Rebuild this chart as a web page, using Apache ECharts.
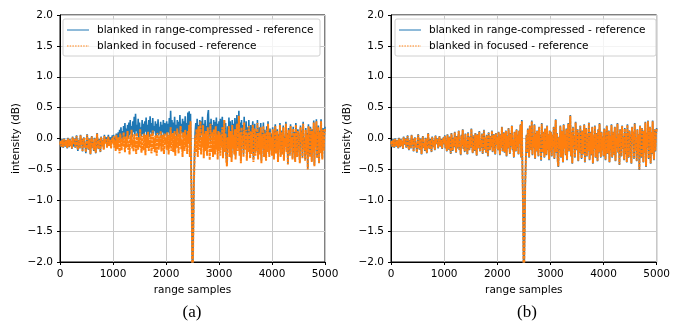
<!DOCTYPE html>
<html><head><meta charset="utf-8">
<script src="https://cdn.jsdelivr.net/npm/echarts@6/dist/echarts.min.js"></script>
<style>html,body{margin:0;padding:0;background:#fff}#c{width:673px;height:322px}</style>
</head><body><div id="c"></div>
<script>
const STEP = 12.5;
const xTicks = [0, 1000, 2000, 3000, 4000, 5000];
const yTicks = [-2.0, -1.5, -1.0, -0.5, 0.0, 0.5, 1.0, 1.5, 2.0];
const seriesNames = ['blanked in range-compressed - reference', 'blanked in focused - reference'];
const panelLabels = ['(a)', '(b)'];

// blanked in focused - reference (same curve in panels a and b)
const focused = [
-0.10,-0.04,-0.13,-0.02,-0.09,-0.14,-0.01,-0.07,-0.12,-0.03,-0.10,-0.15,0.00,-0.08,-0.13,-0.02,
-0.11,-0.05,-0.16,0.02,-0.09,-0.12,-0.01,-0.14,-0.06,0.04,-0.11,-0.18,-0.03,-0.08,-0.15,0.05,
-0.10,-0.02,-0.20,-0.06,0.01,-0.13,-0.09,-0.22,-0.04,0.06,-0.12,-0.17,-0.01,-0.08,-0.25,-0.03,
0.03,-0.14,-0.07,-0.19,0.00,-0.10,-0.23,-0.05,0.08,-0.12,-0.16,-0.02,-0.09,-0.21,0.02,-0.06,
-0.13,-0.03,-0.18,0.04,-0.08,-0.11,-0.01,-0.15,-0.05,0.03,-0.12,-0.09,-0.02,-0.16,-0.06,0.01,
-0.08,0.04,-0.15,-0.03,-0.20,0.06,-0.10,-0.17,0.02,-0.12,-0.24,0.08,-0.06,-0.19,0.00,-0.13,
0.10,-0.09,-0.22,0.03,-0.15,-0.04,0.12,-0.18,-0.08,-0.26,0.05,-0.11,0.14,-0.16,-0.02,-0.21,
0.07,-0.13,-0.05,-0.25,0.09,-0.10,-0.18,0.02,-0.14,0.15,-0.07,-0.23,0.04,-0.12,-0.19,0.08,
-0.04,-0.27,0.06,-0.15,-0.09,0.11,-0.20,-0.03,-0.14,0.07,-0.24,-0.08,0.13,-0.17,0.00,-0.22,
0.05,-0.11,-0.28,0.09,-0.06,-0.18,0.03,-0.13,0.12,-0.21,-0.05,0.06,-0.16,-0.25,0.08,-0.10,
0.02,-0.18,0.10,-0.08,-0.26,0.06,-0.14,0.18,-0.20,-0.03,0.09,-0.22,-0.10,0.12,-0.28,0.04,
-0.15,0.16,-0.06,-0.24,0.08,-0.12,0.20,-0.18,-0.02,-0.30,0.10,-0.09,-0.20,0.14,-0.14,0.05,
-0.25,0.12,-0.08,0.22,
-0.30,0.28,-0.55,-1.20,-2.6,-2.6,-0.80,-0.35,0.05,
-0.22,0.15,-0.10,-0.30,0.20,-0.05,-0.18,0.28,-0.26,0.02,-0.14,0.22,-0.32,0.08,-0.20,0.12,
-0.08,-0.28,0.18,-0.15,0.05,-0.35,0.24,-0.12,-0.22,0.10,-0.30,0.15,-0.05,-0.26,0.20,-0.18,
0.06,-0.34,0.12,
-0.20,0.10,-0.28,0.05,-0.15,0.18,-0.32,-0.05,0.30,-0.22,0.08,-0.36,-0.45,0.02,-0.18,0.20,
-0.30,0.12,-0.10,-0.38,0.22,-0.15,0.06,-0.26,0.15,-0.34,0.00,0.24,-0.20,-0.08,0.37,-0.28,
0.10,-0.40,0.18,-0.12,0.04,-0.30,0.26,-0.18,-0.05,0.14,-0.36,0.08,-0.22,0.20,-0.14,-0.32,
0.12,-0.25,0.02,0.22,-0.38,-0.10,0.16,-0.28,0.06,-0.20,0.25,-0.34,-0.02,0.10,-0.26,0.18,
-0.40,0.04,-0.16,0.20,-0.30,0.08,-0.12,-0.36,0.14,-0.22,0.24,-0.08,-0.30,0.10,-0.18,0.02,
-0.28,0.15,-0.10,-0.34,0.08,0.20,-0.24,-0.06,0.12,-0.38,0.04,-0.18,0.22,-0.30,-0.02,0.10,
-0.26,0.18,-0.36,0.00,-0.14,0.24,-0.22,0.06,-0.42,0.14,-0.08,-0.28,0.20,-0.16,0.02,-0.34,
0.16,-0.24,0.08,-0.38,0.22,-0.12,-0.30,0.12,0.04,-0.20,-0.40,0.18,-0.06,0.10,-0.32,0.24,
-0.18,-0.02,-0.36,0.14,-0.26,0.06,-0.50,0.20,-0.10,-0.30,0.16,0.02,-0.38,0.12,-0.22,0.26,
-0.45,0.08,-0.14,0.28,-0.32,-0.04,0.18,-0.40,0.10,-0.24,0.28,-0.16,-0.34,0.14,-0.20,0.06,
0.16
];

// (a) blanked in range-compressed - reference
const aRange = [
-0.09,-0.03,-0.14,-0.01,-0.10,-0.15,0.00,-0.06,-0.13,-0.02,-0.11,-0.16,0.01,-0.07,-0.14,-0.01,
-0.12,-0.04,-0.17,0.03,-0.08,-0.13,0.00,-0.15,-0.05,0.05,-0.12,-0.20,-0.02,-0.07,-0.16,0.06,
-0.09,-0.01,-0.21,-0.05,0.02,-0.14,-0.08,-0.24,-0.03,0.07,-0.11,-0.18,0.00,-0.07,-0.26,-0.02,
0.04,-0.15,-0.06,-0.20,0.01,-0.09,-0.24,-0.04,0.09,-0.11,-0.17,-0.01,-0.08,-0.22,0.03,-0.05,
-0.12,-0.02,-0.17,0.06,-0.06,-0.09,0.02,-0.12,-0.02,0.06,-0.08,-0.05,0.02,-0.10,-0.01,0.05,
-0.04,0.06,-0.10,0.02,-0.12,0.08,-0.05,-0.08,0.10,
-0.02,0.14,-0.04,0.18,0.00,0.12,-0.03,0.20,0.02,0.25,-0.01,0.16,0.04,0.22,0.00,0.26,
0.05,0.30,0.08,0.20,0.02,0.28,0.10,0.35,0.04,0.40,0.12,0.22,0.06,0.32,0.01,0.26,
0.09,0.18,0.03,0.30,0.07,0.24,0.00,0.28,0.11,0.34,0.05,0.22,0.08,0.30,0.02,0.36,
0.10,0.25,0.04,0.33,0.07,0.20,0.12,0.28,0.01,0.24,0.09,0.31,0.05,0.19,0.08,0.27,
0.02,0.22,0.10,0.30,0.04,0.25,0.06,
0.08,0.28,0.03,0.24,0.10,0.33,0.05,0.45,0.02,0.30,0.09,0.26,0.04,0.35,0.07,0.22,
0.01,0.30,0.10,0.27,0.03,0.38,0.06,0.24,0.09,0.32,0.02,0.28,0.08,0.36,0.05,0.25,
0.04,0.42,0.10,0.44,
-0.25,0.40,-0.50,-1.15,-2.6,-2.6,-0.75,-0.30,0.10,
0.25,0.00,0.32,0.05,0.22,-0.04,0.30,0.02,0.28,0.06,0.35,-0.02,0.24,0.04,0.30,0.01,
0.20,0.08,0.38,0.46,0.03,0.26,-0.05,0.32,0.06,0.22,0.00,0.30,0.04,0.27,-0.03,0.34,
0.05,0.24,0.02,
0.28,-0.15,0.32,-0.05,0.22,0.35,-0.28,0.10,0.30,-0.18,0.25,-0.30,-0.42,0.20,-0.10,0.34,
-0.22,0.28,0.02,-0.32,0.30,-0.08,0.24,-0.20,0.33,-0.28,0.12,0.38,-0.15,0.05,0.45,-0.20,
0.26,-0.35,0.30,-0.05,0.22,-0.25,0.35,-0.12,0.08,0.28,-0.30,0.18,-0.15,0.30,-0.08,-0.26,
0.22,-0.20,0.10,0.28,-0.34,-0.05,0.24,-0.22,0.12,-0.14,0.30,-0.30,0.04,0.18,-0.20,0.25,
-0.36,0.10,-0.10,0.26,-0.26,0.14,-0.06,-0.32,0.20,-0.16,0.28,-0.02,-0.26,0.16,-0.12,0.08,
-0.26,0.18,-0.08,-0.32,0.11,0.23,-0.22,-0.04,0.15,-0.36,0.07,-0.16,0.25,-0.28,0.01,0.13,
-0.24,0.21,-0.34,0.03,-0.12,0.27,-0.20,0.09,-0.40,0.17,-0.06,-0.26,0.23,-0.14,0.05,-0.32,
0.19,-0.22,0.11,-0.36,0.25,-0.10,-0.28,0.15,0.07,-0.18,-0.38,0.21,-0.04,0.13,-0.30,0.27,
-0.16,0.01,-0.34,0.17,-0.24,0.09,-0.48,0.23,-0.08,-0.28,0.19,0.05,-0.36,0.15,-0.20,0.29,
-0.43,0.11,-0.12,0.31,-0.30,-0.02,0.21,-0.38,0.13,-0.22,0.31,-0.14,-0.32,0.17,-0.18,0.09,
0.19
];

// (b) blanked in range-compressed - reference (nearly identical to focused)
const bRange = [
-0.11,-0.03,-0.14,-0.01,-0.10,-0.15,0.00,-0.06,-0.13,-0.02,-0.11,-0.16,0.01,-0.07,-0.14,-0.01,
-0.12,-0.04,-0.17,0.03,-0.10,-0.13,0.00,-0.15,-0.07,0.05,-0.12,-0.19,-0.02,-0.09,-0.16,0.06,
-0.11,-0.01,-0.21,-0.07,0.02,-0.14,-0.10,-0.23,-0.03,0.07,-0.13,-0.18,0.00,-0.09,-0.26,-0.02,
0.04,-0.15,-0.08,-0.20,0.01,-0.11,-0.24,-0.04,0.09,-0.13,-0.17,-0.01,-0.10,-0.22,0.03,-0.07,
-0.14,-0.02,-0.19,0.05,-0.09,-0.12,0.00,-0.16,-0.06,0.04,-0.13,-0.10,-0.01,-0.17,-0.07,0.02,
-0.09,0.05,-0.16,-0.02,-0.21,0.07,-0.11,-0.18,0.03,-0.13,-0.25,0.09,-0.07,-0.20,0.01,-0.14,
0.11,-0.10,-0.23,0.04,-0.16,-0.05,0.13,-0.19,-0.09,-0.27,0.06,-0.12,0.15,-0.17,-0.03,-0.22,
0.08,-0.14,-0.06,-0.26,0.10,-0.11,-0.19,0.03,-0.15,0.16,-0.08,-0.24,0.05,-0.13,-0.20,0.09,
-0.05,-0.28,0.07,-0.16,-0.10,0.12,-0.21,-0.04,-0.15,0.08,-0.25,-0.09,0.14,-0.18,0.01,-0.23,
0.06,-0.12,-0.29,0.10,-0.07,-0.19,0.04,-0.14,0.13,-0.22,-0.06,0.07,-0.17,-0.26,0.09,-0.11,
0.03,-0.19,0.11,-0.09,-0.27,0.07,-0.15,0.19,-0.21,-0.04,0.10,-0.23,-0.11,0.13,-0.29,0.05,
-0.16,0.17,-0.07,-0.25,0.09,-0.13,0.21,-0.19,-0.03,-0.31,0.11,-0.10,-0.21,0.15,-0.15,0.06,
-0.26,0.13,-0.09,0.23,
-0.31,0.30,-0.56,-1.20,-2.6,-2.6,-0.80,-0.36,0.06,
-0.23,0.16,-0.11,-0.31,0.21,-0.06,-0.19,0.29,-0.27,0.03,-0.15,0.23,-0.33,0.09,-0.21,0.13,
-0.09,-0.29,0.19,-0.16,0.06,-0.36,0.25,-0.13,-0.23,0.11,-0.31,0.16,-0.06,-0.27,0.21,-0.19,
0.07,-0.35,0.13,
-0.21,0.11,-0.29,0.06,-0.16,0.19,-0.33,-0.06,0.31,-0.23,0.09,-0.37,-0.46,0.03,-0.19,0.21,
-0.31,0.13,-0.11,-0.39,0.23,-0.16,0.07,-0.27,0.16,-0.35,0.01,0.25,-0.21,-0.09,0.38,-0.29,
0.11,-0.41,0.19,-0.13,0.05,-0.31,0.27,-0.19,-0.06,0.15,-0.37,0.09,-0.23,0.21,-0.15,-0.33,
0.13,-0.26,0.03,0.23,-0.39,-0.11,0.17,-0.29,0.07,-0.21,0.26,-0.35,-0.03,0.11,-0.27,0.19,
-0.41,0.05,-0.17,0.21,-0.31,0.09,-0.13,-0.37,0.15,-0.23,0.25,-0.09,-0.31,0.11,-0.19,0.03,
-0.29,0.16,-0.11,-0.35,0.09,0.21,-0.25,-0.07,0.13,-0.39,0.05,-0.19,0.23,-0.31,-0.03,0.11,
-0.27,0.19,-0.37,0.01,-0.15,0.25,-0.23,0.07,-0.43,0.15,-0.09,-0.29,0.21,-0.17,0.03,-0.35,
0.17,-0.25,0.09,-0.39,0.23,-0.13,-0.31,0.13,0.05,-0.21,-0.41,0.19,-0.07,0.11,-0.33,0.25,
-0.19,-0.03,-0.37,0.15,-0.27,0.07,-0.51,0.21,-0.11,-0.31,0.17,0.03,-0.39,0.13,-0.23,0.27,
-0.46,0.09,-0.15,0.29,-0.33,-0.05,0.19,-0.41,0.11,-0.25,0.29,-0.17,-0.35,0.15,-0.21,0.07,
0.17
];

const BLUE = '#1f77b4', ORANGE = '#ff7f0e';
const FONT = 'DejaVu Sans';
const pairs = arr => arr.map((v, i) => [i * STEP, v]);
const fmtY = v => (v < 0 ? '\u2212' : '') + Math.abs(v).toFixed(1);
const fmtX = v => String(v);

const grids = [
  {left: 60, top: 15, width: 265, height: 247},
  {left: 391, top: 15, width: 269, height: 247}
];

function xAxis(gi) {
  return {
    type: 'value', gridIndex: gi, min: xTicks[0], max: xTicks[xTicks.length - 1], interval: 1000,
    name: 'range samples', nameLocation: 'middle', nameGap: 23,
    nameTextStyle: {fontFamily: FONT, fontSize: 10.5, color: '#000'},
    axisLine: {show: true, onZero: false, lineStyle: {color: '#000', width: 1}},
    axisTick: {show: true, inside: false, length: 3, lineStyle: {color: '#000'}},
    axisLabel: {fontFamily: FONT, fontSize: 10.5, color: '#000', margin: 7, formatter: fmtX},
    splitLine: {show: true, lineStyle: {color: '#c8c8c8', width: 1}}
  };
}
function yAxis(gi) {
  return {
    type: 'value', gridIndex: gi, min: yTicks[0], max: yTicks[yTicks.length - 1], interval: 0.5,
    name: 'intensity (dB)', nameLocation: 'middle', nameGap: 38, nameRotate: 90,
    nameTextStyle: {fontFamily: FONT, fontSize: 10.5, color: '#000'},
    axisLine: {show: true, onZero: false, lineStyle: {color: '#000', width: 1}},
    axisTick: {show: true, inside: false, length: 3, lineStyle: {color: '#000'}},
    axisLabel: {fontFamily: FONT, fontSize: 10.5, color: '#000', margin: 7, formatter: fmtY},
    splitLine: {show: true, lineStyle: {color: '#c8c8c8', width: 1}}
  };
}
function lineSeries(gi, name, data, color, dotted) {
  return {
    type: 'line', name: name, xAxisIndex: gi, yAxisIndex: gi, data: pairs(data),
    showSymbol: false, symbol: 'none', clip: true, animation: false,
    lineStyle: {color: color, width: dotted ? 2.0 : 1.6, type: dotted ? [3, 0.8] : 'solid'},
    itemStyle: {color: color}, z: dotted ? 3 : 2
  };
}
function legendGraphic(x0, y0, w) {
  return [
    {type: 'rect', shape: {x: x0, y: y0, width: w, height: 37, r: 2},
     style: {fill: 'rgba(255,255,255,0.8)', stroke: '#d0d0d0', lineWidth: 1}, z: 10},
    {type: 'line', shape: {x1: x0 + 4, y1: y0 + 11, x2: x0 + 26, y2: y0 + 11},
     style: {stroke: BLUE, lineWidth: 1}, z: 11},
    {type: 'line', shape: {x1: x0 + 4, y1: y0 + 27, x2: x0 + 26, y2: y0 + 27},
     style: {stroke: ORANGE, lineWidth: 1, lineDash: [1.5, 1.2]}, z: 11},
    {type: 'text', x: x0 + 34, y: y0 + 11, z: 11,
     style: {text: seriesNames[0], font: '10.5px "DejaVu Sans"', fill: '#000', verticalAlign: 'middle'}},
    {type: 'text', x: x0 + 34, y: y0 + 27, z: 11,
     style: {text: seriesNames[1], font: '10.5px "DejaVu Sans"', fill: '#000', verticalAlign: 'middle'}}
  ];
}

const chart = echarts.init(document.getElementById('c'), null, {renderer: 'canvas'});
chart.setOption({
  animation: false,
  backgroundColor: '#fff',
  grid: grids.map(g => Object.assign({show: true, borderColor: '#000', borderWidth: 1, backgroundColor: 'transparent'}, g)),
  xAxis: [xAxis(0), xAxis(1)],
  yAxis: [yAxis(0), yAxis(1)],
  series: [
    lineSeries(0, seriesNames[0], aRange, BLUE, false),
    lineSeries(0, seriesNames[1], focused, ORANGE, true),
    lineSeries(1, seriesNames[0], bRange, BLUE, false),
    lineSeries(1, seriesNames[1], focused, ORANGE, true)
  ],
  graphic: [
    ...legendGraphic(63, 19, 257),
    ...legendGraphic(395, 19, 261),
    {type: 'text', x: 192, y: 313, z: 11,
     style: {text: panelLabels[0], font: '17px "Liberation Serif"', fill: '#000', align: 'center', verticalAlign: 'middle'}},
    {type: 'text', x: 527, y: 313, z: 11,
     style: {text: panelLabels[1], font: '17px "Liberation Serif"', fill: '#000', align: 'center', verticalAlign: 'middle'}}
  ]
});
</script></body></html>
